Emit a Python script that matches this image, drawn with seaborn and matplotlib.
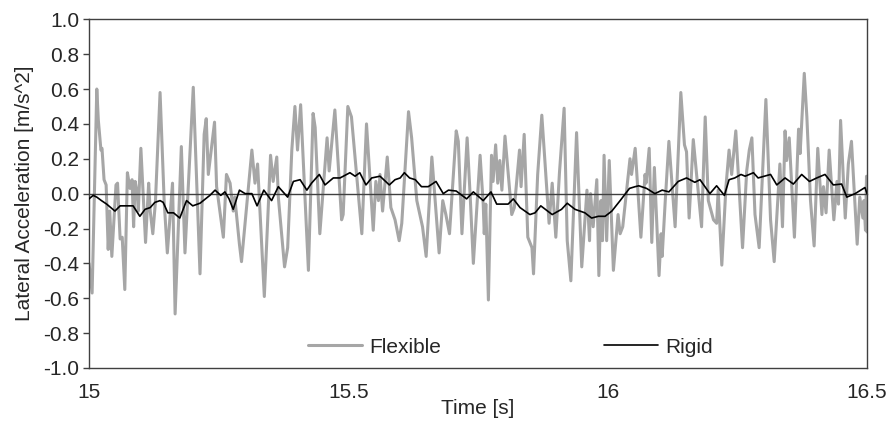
import numpy as np
import pandas as pd
import matplotlib
matplotlib.use("Agg")
import matplotlib.pyplot as plt
import seaborn as sns

# Flexible body response (peaks and troughs)
flex_time = [
    15.000, 15.006, 15.015, 15.018, 15.023, 15.025, 15.029, 15.033, 15.037, 15.040,
    15.044, 15.052, 15.055, 15.060, 15.064, 15.069, 15.074, 15.079, 15.083, 15.086,
    15.089, 15.093, 15.095, 15.100, 15.109, 15.115, 15.118, 15.123, 15.128, 15.137,
    15.145, 15.151, 15.161, 15.166, 15.178, 15.185, 15.190, 15.201, 15.214, 15.222,
    15.226, 15.230, 15.242, 15.246, 15.259, 15.265, 15.272, 15.278, 15.281, 15.290,
    15.294, 15.314, 15.320, 15.325, 15.338, 15.350, 15.355, 15.362, 15.365, 15.377,
    15.383, 15.391, 15.397, 15.402, 15.408, 15.423, 15.432, 15.436, 15.445, 15.459,
    15.463, 15.474, 15.487, 15.490, 15.499, 15.506, 15.526, 15.535, 15.548, 15.553,
    15.558, 15.561, 15.566, 15.575, 15.582, 15.590, 15.598, 15.603, 15.616, 15.622,
    15.632, 15.643, 15.650, 15.661, 15.675, 15.682, 15.688, 15.695, 15.708, 15.712,
    15.719, 15.729, 15.735, 15.741, 15.754, 15.760, 15.762, 15.765, 15.770, 15.776,
    15.779, 15.784, 15.788, 15.792, 15.796, 15.802, 15.815, 15.820, 15.830, 15.833,
    15.839, 15.846, 15.854, 15.857, 15.865, 15.873, 15.887, 15.893, 15.900, 15.907,
    15.916, 15.922, 15.929, 15.940, 15.950, 15.960, 15.965, 15.967, 15.972, 15.979,
    15.983, 15.987, 15.990, 15.993, 15.998, 16.003, 16.011, 16.020, 16.024, 16.029,
    16.043, 16.046, 16.053, 16.064, 16.072, 16.074, 16.080, 16.085, 16.090, 16.099,
    16.103, 16.105, 16.111, 16.118, 16.130, 16.141, 16.148, 16.152, 16.157, 16.165,
    16.181, 16.188, 16.194, 16.204, 16.210, 16.213, 16.220, 16.228, 16.234, 16.239,
    16.247, 16.260, 16.268, 16.273, 16.278, 16.284, 16.292, 16.305, 16.314, 16.321,
    16.332, 16.337, 16.342, 16.345, 16.350, 16.360, 16.368, 16.371, 16.379, 16.384,
    16.391, 16.398, 16.405, 16.413, 16.416, 16.421, 16.427, 16.436, 16.442, 16.445,
    16.449, 16.458, 16.464, 16.470, 16.481, 16.486, 16.492, 16.494, 16.497, 16.499,
    16.500,
]
flex_accel = [
    -0.40, -0.57, 0.60, 0.42, 0.25, 0.26, 0.08, 0.05, -0.32, -0.10,
    -0.36, 0.05, 0.06, -0.26, -0.25, -0.55, 0.12, 0.03, 0.08, -0.19,
    0.07, 0.00, -0.10, 0.26, -0.28, 0.06, -0.10, -0.23, -0.05, 0.58,
    -0.05, -0.34, 0.06, -0.69, 0.27, -0.34, -0.04, 0.61, -0.46, 0.34,
    0.43, 0.11, 0.41, 0.04, -0.25, 0.11, 0.06, -0.10, -0.02, -0.29,
    -0.39, 0.25, 0.06, 0.17, -0.59, 0.22, 0.07, 0.21, -0.02, -0.42,
    -0.31, 0.25, 0.50, 0.25, 0.51, -0.44, 0.46, 0.38, -0.23, 0.32,
    0.13, 0.48, -0.15, -0.12, 0.50, 0.44, -0.23, 0.40, -0.21, 0.07,
    -0.04, 0.11, -0.10, 0.21, -0.08, -0.15, -0.27, -0.17, 0.47, 0.32,
    -0.04, -0.19, -0.36, 0.21, -0.34, -0.04, -0.12, -0.23, 0.36, 0.30,
    -0.23, 0.32, -0.02, -0.40, 0.22, -0.06, -0.23, -0.06, -0.61, 0.22,
    0.07, 0.28, 0.06, 0.19, 0.02, 0.33, -0.12, -0.08, 0.25, 0.04,
    0.34, -0.25, -0.31, -0.46, 0.11, 0.45, -0.17, 0.06, -0.25, 0.12,
    0.49, -0.27, -0.50, 0.35, -0.42, 0.02, -0.27, 0.00, -0.19, 0.08,
    -0.47, -0.04, -0.27, 0.22, -0.27, 0.19, -0.44, -0.12, -0.23, -0.19,
    0.20, 0.11, 0.26, -0.25, 0.11, 0.06, 0.26, -0.28, 0.15, -0.47,
    -0.23, -0.36, -0.04, 0.30, -0.19, 0.58, 0.28, 0.24, -0.14, 0.31,
    -0.19, 0.44, -0.04, -0.15, -0.17, 0.02, -0.41, 0.04, 0.25, 0.11,
    0.36, -0.31, 0.13, 0.25, 0.32, -0.12, -0.31, 0.54, -0.15, -0.39,
    0.17, -0.19, 0.36, 0.19, 0.32, -0.25, 0.37, 0.23, 0.69, 0.44,
    -0.04, -0.30, 0.26, -0.12, 0.04, -0.11, 0.25, -0.15, 0.07, -0.06,
    0.42, -0.14, 0.17, 0.30, -0.29, -0.02, -0.14, -0.04, -0.21, 0.10,
    -0.22,
]

# Rigid body response
rigid_time = [
    15.000, 15.008, 15.015, 15.024, 15.034, 15.050, 15.060, 15.073, 15.085, 15.098,
    15.108, 15.118, 15.127, 15.137, 15.143, 15.152, 15.163, 15.175, 15.188, 15.200,
    15.214, 15.233, 15.243, 15.254, 15.262, 15.270, 15.278, 15.290, 15.301, 15.314,
    15.324, 15.337, 15.352, 15.365, 15.383, 15.394, 15.407, 15.420, 15.429, 15.444,
    15.455, 15.471, 15.484, 15.503, 15.513, 15.522, 15.534, 15.545, 15.561, 15.579,
    15.590, 15.600, 15.608, 15.618, 15.629, 15.641, 15.654, 15.669, 15.683, 15.693,
    15.708, 15.728, 15.741, 15.760, 15.775, 15.786, 15.808, 15.818, 15.831, 15.850,
    15.860, 15.871, 15.893, 15.911, 15.922, 15.937, 15.956, 15.969, 15.982, 15.995,
    16.008, 16.024, 16.042, 16.053, 16.060, 16.075, 16.091, 16.105, 16.118, 16.136,
    16.152, 16.168, 16.178, 16.197, 16.210, 16.225, 16.234, 16.245, 16.257, 16.265,
    16.281, 16.290, 16.314, 16.326, 16.342, 16.358, 16.374, 16.389, 16.403, 16.419,
    16.435, 16.451, 16.461, 16.477, 16.496, 16.500,
]
rigid_accel = [
    -0.03, -0.01, -0.02, -0.04, -0.06, -0.10, -0.07, -0.07, -0.07, -0.13,
    -0.09, -0.08, -0.05, -0.04, -0.05, -0.11, -0.11, -0.14, -0.04, -0.07,
    -0.055, -0.01, 0.02, -0.01, 0.01, -0.03, -0.09, 0.02, 0.00, 0.00,
    -0.07, 0.02, -0.04, 0.04, -0.02, 0.07, 0.08, 0.02, 0.06, 0.11,
    0.05, 0.09, 0.09, 0.12, 0.10, 0.12, 0.05, 0.09, 0.10, 0.05,
    0.08, 0.09, 0.12, 0.09, 0.08, 0.04, 0.04, 0.07, 0.00, 0.02,
    0.015, -0.03, 0.01, -0.04, 0.01, -0.06, -0.06, -0.03, -0.08, -0.12,
    -0.11, -0.07, -0.12, -0.09, -0.055, -0.09, -0.11, -0.14, -0.13, -0.13,
    -0.10, -0.04, 0.03, 0.04, 0.045, 0.03, 0.00, 0.02, 0.01, 0.07,
    0.09, 0.065, 0.08, 0.00, 0.045, -0.01, 0.08, 0.09, 0.11, 0.10,
    0.12, 0.09, 0.11, 0.05, 0.09, 0.055, 0.11, 0.07, 0.09, 0.11,
    0.05, 0.055, -0.02, 0.00, 0.035, 0.00,
]

x_ticks = [15, 15.5, 16, 16.5]
x_tick_labels = ["15", "15.5", "16", "16.5"]
y_ticks = [-1.0, -0.8, -0.6, -0.4, -0.2, 0.0, 0.2, 0.4, 0.6, 0.8, 1.0]

flex_df = pd.DataFrame({"time": flex_time, "accel": flex_accel})
rigid_df = pd.DataFrame({"time": rigid_time, "accel": rigid_accel})

sns.set_style("white")
plt.rcParams["font.family"] = ["Liberation Sans", "DejaVu Sans"]
plt.rcParams["axes.unicode_minus"] = False

fs = 15
fig = plt.figure(figsize=(8.91, 4.21), dpi=100)
ax = fig.add_axes([0.0999, 0.1259, 0.8732, 0.8283])

axis_color = "#404040"

sns.lineplot(data=flex_df, x="time", y="accel", ax=ax, color="#a6a6a6",
             linewidth=2.2, estimator=None, label="Flexible", zorder=2)
sns.lineplot(data=rigid_df, x="time", y="accel", ax=ax, color="black",
             linewidth=1.2, estimator=None, label="Rigid", zorder=4)

ax.set_xlim(15, 16.5)
ax.set_ylim(-1.0, 1.0)

# horizontal axis crossing at zero, with its tick marks pointing down
ax.spines["bottom"].set_position(("data", 0))
for side in ["bottom", "left", "right", "top"]:
    ax.spines[side].set_color(axis_color)
    ax.spines[side].set_linewidth(1.0)
    ax.spines[side].set_zorder(3)
ax.set_xticks(x_ticks)
ax.tick_params(axis="x", direction="out", length=4, width=1.0, color=axis_color,
               labelbottom=False)

# frame line at the bottom, with the time labels below it
low = ax.secondary_xaxis("bottom")
low.set_xticks(x_ticks)
low.set_xticklabels(x_tick_labels)
low.tick_params(length=0, pad=11, labelsize=fs)
low.spines["bottom"].set_color(axis_color)
low.spines["bottom"].set_linewidth(1.0)
low.set_xlabel("Time [s]", fontsize=fs, labelpad=-2)

ax.set_yticks(y_ticks)
ax.set_yticklabels([f"{v:.1f}" for v in y_ticks])
ax.tick_params(axis="y", direction="out", length=4, width=1.0, color=axis_color,
               labelsize=fs, pad=3, left=True)
ax.set_ylabel("Lateral Acceleration [m/s^2]", fontsize=fs, labelpad=7)
ax.set_xlabel("")

ax.legend(loc="center", bbox_to_anchor=(0.542, 0.06), ncol=2, frameon=False,
          fontsize=fs, handlelength=2.6, columnspacing=7.8, handletextpad=0.35)

fig.savefig("out.png", dpi=100)
